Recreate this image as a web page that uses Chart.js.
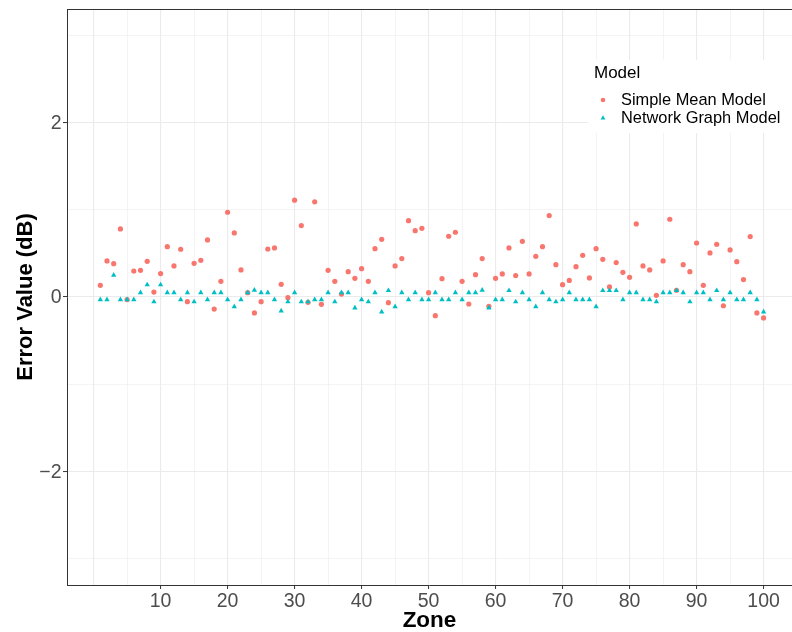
<!DOCTYPE html>
<html>
<head>
<meta charset="utf-8">
<script src="https://cdn.jsdelivr.net/npm/chart.js@4.4.1/dist/chart.umd.min.js"></script>
<style>
  html, body { margin: 0; padding: 0; background: #fff; overflow: hidden; }
  #chart { display: block; }
</style>
</head>
<body>
<canvas id="chart" width="792" height="632"></canvas>
<script>
// Zones 1..100 on the x axis
const zones = Array.from({length: 100}, (_, i) => i + 1);

// Error values (dB), one per zone
const simpleMean = [
  0.134, 0.413, 0.382, 0.78, -0.03, 0.298, 0.306, 0.409, 0.057, 0.268,
  0.577, 0.356, 0.547, -0.054, 0.386, 0.42, 0.654, -0.138, 0.18, 0.971,
  0.734, 0.31, 0.05, -0.183, -0.054, 0.55, 0.562, 0.145, -0.008, 1.109,
  0.818, -0.061, 1.09, -0.084, 0.306, 0.18, 0.034, 0.29, 0.214, 0.325,
  0.18, 0.554, 0.661, -0.065, 0.356, 0.44, 0.875, 0.76, 0.787, 0.05,
  -0.214, 0.21, 0.696, 0.742, 0.18, -0.08, 0.256, 0.44, -0.107, 0.214,
  0.264, 0.562, 0.245, 0.638, 0.264, 0.466, 0.577, 0.933, 0.37, 0.141,
  0.19, 0.348, 0.478, 0.218, 0.554, 0.432, 0.115, 0.394, 0.283, 0.226,
  0.837, 0.356, 0.31, 0.019, 0.413, 0.891, 0.076, 0.37, 0.29, 0.619,
  0.134, 0.505, 0.604, -0.1, 0.539, 0.405, 0.2, 0.692, -0.183, -0.24
];
const networkGraph = [
  -0.03, -0.03, 0.25, -0.03, -0.03, -0.03, 0.05, 0.14, -0.055, 0.14,
  0.05, 0.05, -0.03, 0.05, -0.055, 0.05, -0.03, 0.05, 0.05, -0.03,
  -0.11, -0.03, 0.05, 0.078, 0.05, 0.05, -0.03, -0.16, -0.055, 0.05,
  -0.055, -0.055, -0.03, -0.03, 0.05, -0.055, 0.05, 0.05, -0.125, -0.03,
  -0.055, 0.05, -0.17, 0.074, -0.11, 0.05, -0.03, 0.05, -0.03, -0.03,
  0.05, -0.03, -0.03, 0.05, -0.03, 0.05, 0.05, 0.078, -0.125, -0.03,
  -0.03, 0.074, -0.055, 0.05, -0.03, -0.11, 0.05, -0.03, -0.055, -0.03,
  0.05, -0.03, -0.03, -0.03, -0.11, 0.074, 0.074, 0.074, -0.03, 0.05,
  0.05, -0.03, -0.03, -0.055, 0.05, 0.05, 0.074, 0.05, -0.055, 0.05,
  0.05, -0.03, 0.074, -0.03, 0.05, -0.03, -0.03, 0.05, -0.03, -0.17
];

const seriesNames = ["Simple Mean Model", "Network Graph Model"];
const seriesColors = ["#F8766D", "#00BFC4"];
const xTicks = [0, 5, 10, 15, 20, 25, 30, 35, 40, 45, 50, 55, 60, 65, 70, 75, 80, 85, 90, 95, 100];
const yTicks = [-3, -2, -1, 0, 1, 2, 3];

const FONT = "'Liberation Sans', Arial, Helvetica, sans-serif";
const GRID = "#EBEBEB";
const AXIS = "#333333";

const toPoints = vals => zones.map((z, i) => ({x: z, y: vals[i]}));

// Top border of the panel and the legend box inside the plot
const panelExtras = {
  id: "panelExtras",
  afterDraw(chart) {
    const ctx = chart.ctx;
    const area = chart.chartArea;
    ctx.save();
    ctx.strokeStyle = AXIS;
    ctx.lineWidth = 1;
    ctx.beginPath();
    ctx.moveTo(area.left, area.top + 0.5);
    ctx.lineTo(area.right, area.top + 0.5);
    ctx.stroke();

    // legend
    ctx.fillStyle = "#fff";
    ctx.fillRect(588, 60, 204, 73);
    ctx.fillStyle = "#000";
    ctx.textBaseline = "middle";
    ctx.textAlign = "left";
    ctx.font = "17px " + FONT;
    ctx.fillText("Model", 594, 73);
    ctx.font = "16.4px " + FONT;
    const rows = [100, 118];
    seriesNames.forEach((name, i) => {
      const y = rows[i];
      ctx.fillStyle = seriesColors[i];
      ctx.beginPath();
      if (i === 0) {
        ctx.arc(603, y, 2.3, 0, Math.PI * 2);
      } else {
        const r = 2.8;
        ctx.moveTo(603, y - r);
        ctx.lineTo(603 + r * 0.866, y + r / 2);
        ctx.lineTo(603 - r * 0.866, y + r / 2);
        ctx.closePath();
      }
      ctx.fill();
      ctx.fillStyle = "#000";
      ctx.fillText(name, 621, y + 0.5);
    });
    ctx.restore();
  }
};

const fmtY = v => v < 0 ? "\u2212" + Math.abs(v) : String(v);

new Chart(document.getElementById("chart"), {
  type: "scatter",
  data: {
    datasets: [
      {
        label: seriesNames[0],
        data: toPoints(simpleMean),
        pointStyle: "circle",
        pointRadius: 2.6,
        pointBorderWidth: 0,
        backgroundColor: seriesColors[0],
        borderColor: seriesColors[0],
        order: 1
      },
      {
        label: seriesNames[1],
        data: toPoints(networkGraph),
        pointStyle: "triangle",
        pointRadius: 3.1,
        pointBorderWidth: 0,
        backgroundColor: seriesColors[1],
        borderColor: seriesColors[1],
        order: 0
      }
    ]
  },
  options: {
    responsive: false,
    animation: false,
    devicePixelRatio: 1,
    layout: { autoPadding: false, padding: { top: 9, left: 0, right: 0, bottom: 0 } },
    plugins: {
      legend: { display: false },
      tooltip: { enabled: false }
    },
    scales: {
      x: {
        type: "linear",
        min: -3.97,
        max: 104.24,
        afterBuildTicks: s => { s.ticks = xTicks.map(v => ({value: v})); },
        afterFit: s => { s.height = 47; s.paddingLeft = 0; s.paddingRight = 0; },
        grid: {
          color: GRID,
          lineWidth: c => (c.tick && c.tick.value % 10 === 0) ? 1.1 : 0.55,
          drawTicks: true,
          tickLength: 4,
          tickWidth: 1,
          tickColor: c => (c.tick && c.tick.value % 10 === 0 && c.tick.value > 0) ? AXIS : "rgba(0,0,0,0)"
        },
        border: { display: true, color: AXIS, width: 1 },
        ticks: {
          autoSkip: false,
          maxRotation: 0,
          padding: 2.5,
          color: "#4D4D4D",
          font: { family: FONT, size: 19.5, lineHeight: 1 },
          callback: v => (v % 10 === 0 && v > 0) ? String(v) : ""
        },
        title: {
          display: true,
          text: "Zone",
          color: "#000",
          font: { family: FONT, size: 22.5, weight: "bold", lineHeight: 1 },
          padding: { top: 0, bottom: 0 }
        }
      },
      y: {
        type: "linear",
        min: -3.3,
        max: 3.3,
        afterBuildTicks: s => { s.ticks = yTicks.map(v => ({value: v})); },
        afterFit: s => { s.width = 67; s.paddingTop = 0; s.paddingBottom = 0; },
        grid: {
          color: GRID,
          lineWidth: c => (c.tick && c.tick.value % 2 === 0) ? 1.1 : 0.55,
          drawTicks: true,
          tickLength: 4,
          tickWidth: 1,
          tickColor: c => (c.tick && c.tick.value % 2 === 0) ? AXIS : "rgba(0,0,0,0)"
        },
        border: { display: true, color: AXIS, width: 1 },
        ticks: {
          autoSkip: false,
          padding: 1.5,
          labelOffset: 1,
          color: "#4D4D4D",
          font: { family: FONT, size: 19.5, lineHeight: 1 },
          callback: v => (v % 2 === 0) ? fmtY(v) : ""
        },
        title: {
          display: true,
          text: "Error Value (dB)",
          color: "#000",
          font: { family: FONT, size: 22, weight: "bold", lineHeight: 1 },
          padding: { top: 15, bottom: 0 }
        }
      }
    }
  },
  plugins: [panelExtras]
});
</script>
</body>
</html>
